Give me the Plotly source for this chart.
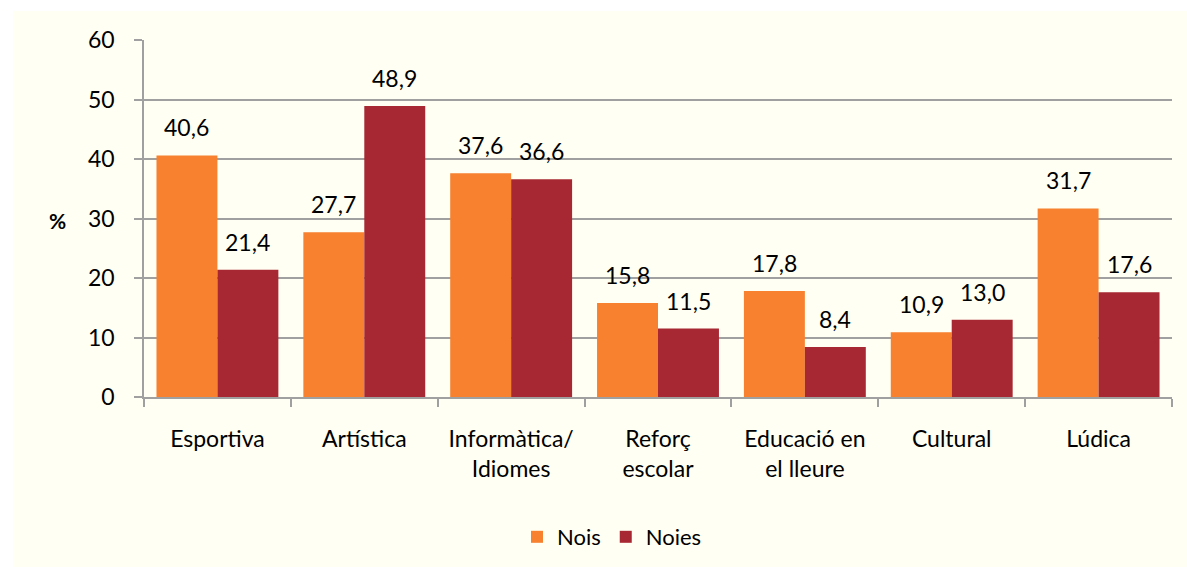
import plotly.graph_objects as go

categories = ["Esportiva", "Artística", "Informàtica/<br>Idiomes", "Reforç<br>escolar",
              "Educació en<br>el lleure", "Cultural", "Lúdica"]
nois = [40.6, 27.7, 37.6, 15.8, 17.8, 10.9, 31.7]
noies = [21.4, 48.9, 36.6, 11.5, 8.4, 13.0, 17.6]
y_ticks = [0, 10, 20, 30, 40, 50, 60]

ORANGE = "#F7812F"
RED = "#A72832"
CREAM = "#FFFFF3"
FONT = "Lato"
FS = 23

W, H = 1187, 567
L, R, T, B = 144, 15, 40, 170
pw, ph = W - L - R, H - T - B
bargap = 0.17

fig = go.Figure()
fig.add_bar(x=categories, y=nois, name="Nois", marker_color=ORANGE, marker_line_width=0)
fig.add_bar(x=categories, y=noies, name="Noies", marker_color=RED, marker_line_width=0)

catw = pw / len(categories)
shift = (1 - bargap) / 4 * catw
annotations = []
for c, a, b in zip(categories, nois, noies):
    for v, s in ((a, -shift), (b, shift)):
        annotations.append(dict(x=c, y=v, text=f"{v:.1f}".replace(".", ","), showarrow=False,
                                xshift=s, yshift=12, yanchor="bottom",
                                font=dict(family=FONT, size=FS, color="#000")))
annotations.append(dict(xref="paper", yref="paper", x=(57 - L) / pw, y=(397 - 220) / ph,
                        xanchor="center", yanchor="middle",
                        text="<b>%</b>", showarrow=False, font=dict(family=FONT, size=21, color="#000")))

shapes = [
    dict(type="rect", xref="paper", yref="paper", x0=-L / pw, x1=(13 - L) / pw,
         y0=-B / ph, y1=(ph + T) / ph, fillcolor="white", line_width=0, layer="below"),
    dict(type="rect", xref="paper", yref="paper", x0=-L / pw, x1=(W - L) / pw,
         y0=(397 - 11) / ph, y1=(ph + T) / ph, fillcolor="white", line_width=0, layer="below"),
]

fig.update_layout(
    width=W, height=H,
    margin=dict(l=L, r=R, t=T, b=B, autoexpand=False),
    paper_bgcolor=CREAM, plot_bgcolor=CREAM,
    barmode="group", bargap=bargap, bargroupgap=0,
    font=dict(family=FONT, size=FS, color="#000"),
    showlegend=True,
    legend=dict(orientation="h", x=(612 - L) / pw, xanchor="center", y=(397 - 537) / ph, yanchor="middle",
                font=dict(family=FONT, size=22), itemwidth=30, traceorder="normal", bgcolor="rgba(0,0,0,0)"),
    annotations=annotations, shapes=shapes,
)
fig.update_xaxes(showline=True, linecolor="#A0A0A0", linewidth=1.5, ticks="outside", ticklen=8,
                 tickcolor="#A0A0A0", tickwidth=1.5, tickson="boundaries", ticklabelstandoff=21,
                 tickfont=dict(family=FONT, size=FS))
fig.update_yaxes(range=[0, 60], tickvals=y_ticks, showgrid=True, gridcolor="#A0A0A0", gridwidth=1.5,
                 showline=True, linecolor="#A0A0A0", linewidth=1.5, ticks="outside", ticklen=8,
                 tickcolor="#A0A0A0", tickwidth=1.5, ticklabelstandoff=15, zeroline=False,
                 tickfont=dict(family=FONT, size=FS))

fig.write_html("out.html", config={"displayModeBar": False},
               post_script="document.body.style.margin='0px';")
